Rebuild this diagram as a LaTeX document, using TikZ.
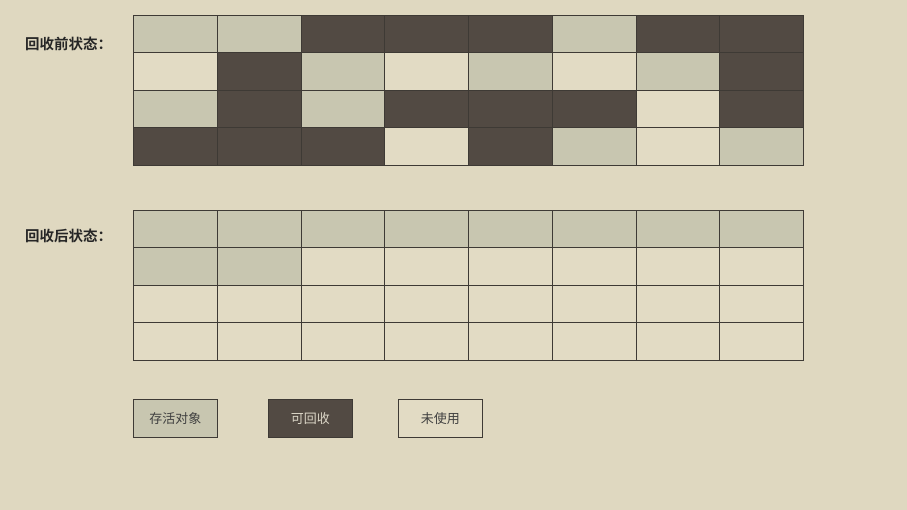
\documentclass[tikz,border=0pt]{standalone}
\usepackage{fontspec}
\newfontfamily\cjk{Noto Sans CJK SC}
\newfontfamily\cjkb{Noto Sans CJK SC Bold}
\definecolor{bg}{HTML}{DFD8C0}
\definecolor{live}{HTML}{C8C6B0}
\definecolor{dead}{HTML}{524A43}
\definecolor{free}{HTML}{E2DBC4}
\definecolor{edge}{HTML}{3E3A35}
\definecolor{deadtxt}{HTML}{DAD5C6}
\begin{document}
\begin{tikzpicture}[x=1pt,y=-1pt,
  cell/.style={draw=edge,line width=0.9pt,minimum width=83.75pt,minimum height=37.5pt,inner sep=0pt,anchor=north west},
  L/.style={cell,fill=live},
  D/.style={cell,fill=dead},
  U/.style={cell,fill=free},
  lab/.style={font=\cjkb\fontsize{14.5}{14.5}\selectfont,text=black!85,anchor=west,inner sep=0pt},
  legend/.style={draw=edge,line width=0.9pt,minimum width=84pt,minimum height=38pt,inner sep=0pt,anchor=north west,font=\cjk\fontsize{13}{13}\selectfont,text=black!75}]
\fill[bg] (0,0) rectangle (907,510);
\useasboundingbox (0,0) rectangle (907,510);
% before
\foreach \row [count=\r from 0] in {{L,L,D,D,D,L,D,D},{U,D,L,U,L,U,L,D},{L,D,L,D,D,D,U,D},{D,D,D,U,D,L,U,L}}{
  \foreach \t [count=\c from 0] in \row {
    \node[\t] (a-\r-\c) at ({133+\c*83.75},{15+\r*37.5}) {};
  }
}
% after
\foreach \row [count=\r from 0] in {{L,L,L,L,L,L,L,L},{L,L,U,U,U,U,U,U},{U,U,U,U,U,U,U,U},{U,U,U,U,U,U,U,U}}{
  \foreach \t [count=\c from 0] in \row {
    \node[\t] (b-\r-\c) at ({133+\c*83.75},{210+\r*37.5}) {};
  }
}
\node[lab] (before) at (25,44) {回收前状态：};
\node[lab] (after) at (25,236) {回收后状态：};
\node[legend,fill=live] (k1) at (133,399) {存活对象};
\node[legend,fill=dead,text=deadtxt] (k2) at (268,399) {可回收};
\node[legend,fill=free] (k3) at (398,399) {未使用};
\end{tikzpicture}
\end{document}
